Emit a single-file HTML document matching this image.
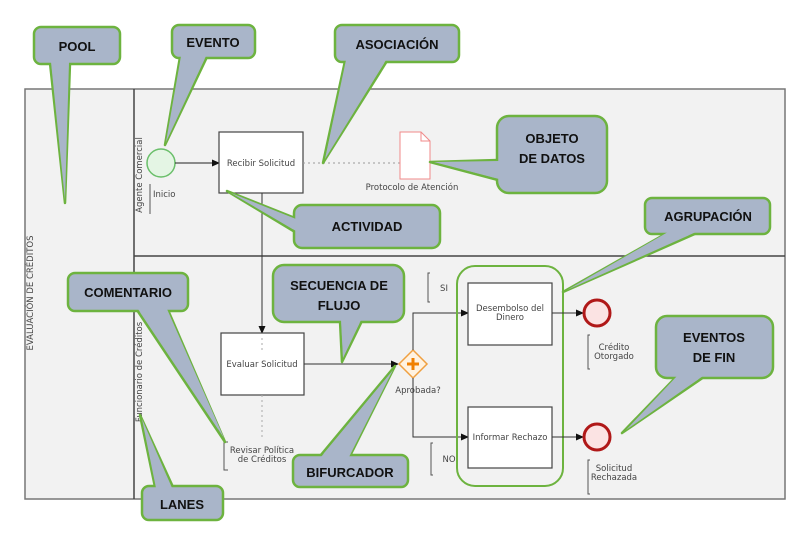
<!DOCTYPE html>
<html><head><meta charset="utf-8"><style>
html,body{margin:0;padding:0;background:#fff;}
svg{display:block;font-family:"DejaVu Sans","Liberation Sans",sans-serif;}
.c{font-family:"Liberation Sans",sans-serif;font-weight:bold;font-size:13px;fill:#111;text-anchor:middle;}
.t{font-size:8.5px;fill:#444;text-anchor:middle;}
</style></head><body>
<svg width="806" height="538" viewBox="0 0 806 538" xmlns="http://www.w3.org/2000/svg">
<defs><marker id="a" markerWidth="8" markerHeight="8" refX="7" refY="4" orient="auto" markerUnits="userSpaceOnUse"><path d="M0,0.5 L8,4 L0,7.5z" fill="#111"/></marker></defs>
<!-- pool -->
<rect x="25" y="89" width="760" height="410" fill="#f2f2f2" stroke="#777" stroke-width="1.5"/>
<line x1="134" y1="89" x2="134" y2="499" stroke="#444" stroke-width="1.5"/>
<line x1="134" y1="256" x2="785" y2="256" stroke="#444" stroke-width="1.5"/>
<text transform="translate(33,293) rotate(-90)" font-size="8.5" fill="#444" text-anchor="middle">EVALUACIÓN DE CRÉDITOS</text>
<text transform="translate(142,175) rotate(-90)" font-size="8.5" fill="#444" text-anchor="middle">Agente Comercial</text>
<text transform="translate(142,372) rotate(-90)" font-size="8.5" fill="#444" text-anchor="middle">Funcionario de Créditos</text>
<!-- top lane -->
<circle cx="161" cy="163" r="14" fill="#e4f5e4" stroke="#6abf6a" stroke-width="1.5"/>
<path d="M150,184 V214" stroke="#555" fill="none"/>
<text x="153" y="197" font-size="8.5" fill="#444">Inicio</text>
<line x1="175" y1="163" x2="219" y2="163" stroke="#222" marker-end="url(#a)"/>
<rect x="219" y="132" width="84" height="61" fill="#fff" stroke="#444" stroke-width="1.2"/>
<text x="261" y="166" class="t">Recibir Solicitud</text>
<line x1="303" y1="163" x2="400" y2="163" stroke="#999" stroke-dasharray="2,3"/>
<path d="M400,132 H421 L430,141 V179 H400Z" fill="#fff" stroke="#f08a8a"/>
<path d="M421,132 V141 H430" fill="none" stroke="#f08a8a"/>
<text x="412" y="190" class="t">Protocolo de Atención</text>
<line x1="262" y1="193" x2="262" y2="333" stroke="#333" marker-end="url(#a)"/>
<!-- bottom lane -->
<rect x="221" y="333" width="83" height="62" fill="#fff" stroke="#444" stroke-width="1.2"/>
<text x="262" y="367" class="t">Evaluar Solicitud</text>
<line x1="262" y1="338" x2="262" y2="352" stroke="#aaa" stroke-dasharray="2,3"/>
<line x1="262" y1="395" x2="262" y2="440" stroke="#aaa" stroke-dasharray="2,3"/>
<path d="M228,442 H224 V470 H228" stroke="#555" fill="none"/>
<text x="262" y="453" class="t">Revisar Política</text>
<text x="262" y="462" class="t">de Créditos</text>
<line x1="304" y1="364" x2="398" y2="364" stroke="#333" marker-end="url(#a)"/>
<path d="M413,350 L427,364 L413,378 L399,364Z" fill="#fff2e0" stroke="#f0a040" stroke-width="1.5"/>
<path d="M413,358 V370 M407,364 H419" stroke="#f08000" stroke-width="3"/>
<text x="418" y="393" class="t">Aprobada?</text>
<path d="M413,350 V313 H468" stroke="#333" fill="none" marker-end="url(#a)"/>
<path d="M413,378 V437 H468" stroke="#333" fill="none" marker-end="url(#a)"/>
<path d="M430,273 H428 V302 H430" stroke="#555" fill="none"/>
<text x="444" y="291" class="t">SI</text>
<path d="M433,443 H431 V475 H433" stroke="#555" fill="none"/>
<text x="449" y="462" class="t">NO</text>
<rect x="468" y="283" width="84" height="62" fill="#fff" stroke="#444" stroke-width="1.2"/>
<text x="510" y="311" class="t">Desembolso del</text>
<text x="510" y="320" class="t">Dinero</text>
<rect x="468" y="407" width="84" height="61" fill="#fff" stroke="#444" stroke-width="1.2"/>
<text x="510" y="440" class="t">Informar Rechazo</text>
<rect x="457" y="266" width="106" height="220" rx="18" fill="none" stroke="#6db33f" stroke-width="2"/>
<line x1="552" y1="313" x2="583" y2="313" stroke="#333" marker-end="url(#a)"/>
<line x1="552" y1="437" x2="583" y2="437" stroke="#333" marker-end="url(#a)"/>
<circle cx="597" cy="313" r="13" fill="#fbe3e3" stroke="#b01818" stroke-width="3"/>
<circle cx="597" cy="437" r="13" fill="#fbe3e3" stroke="#b01818" stroke-width="3"/>
<path d="M590,335 H588 V369 H590" stroke="#555" fill="none"/>
<text x="614" y="350" class="t">Crédito</text>
<text x="614" y="359" class="t">Otorgado</text>
<path d="M590,460 H588 V494 H590" stroke="#555" fill="none"/>
<text x="614" y="471" class="t">Solicitud</text>
<text x="614" y="480" class="t">Rechazada</text>
<!-- callouts -->
<g fill="#a9b5c9" stroke="#6db33f" stroke-width="2.5" stroke-linejoin="round">
<polygon points="50,63 70,63 65,203"/><rect x="34" y="27" width="86" height="37" rx="7"/><polygon points="51,62 69,62 65,200" stroke="none"/>
<polygon points="180,57 207,57 165,145"/><rect x="172" y="25" width="83" height="33" rx="7"/><polygon points="181,56 206,56 166,142" stroke="none"/>
<polygon points="345,61 387,61 323,163"/><rect x="335" y="25" width="124" height="37" rx="7"/><polygon points="346,60 386,60 325,159" stroke="none"/>
<polygon points="498,160 498,180 430,162"/><rect x="497" y="116" width="110" height="77" rx="12"/><polygon points="499,161 499,179 434,162" stroke="none"/>
<polygon points="295,218 295,232 227,191"/><rect x="294" y="205" width="146" height="43" rx="8"/><polygon points="296,219 296,231 231,193" stroke="none"/>
<polygon points="667,233 697,233 563,292"/><rect x="645" y="198" width="125" height="36" rx="7"/><polygon points="668,232 696,232 567,290" stroke="none"/>
<polygon points="676,377 704,377 622,433"/><rect x="656" y="316" width="117" height="62" rx="11"/><polygon points="677,376 703,376 626,430" stroke="none"/>
<polygon points="137,310 168,310 225,442"/><rect x="68" y="273" width="120" height="38" rx="7"/><polygon points="138,309 167,309 224,438" stroke="none"/>
<polygon points="340,321 362,321 342,362"/><rect x="273" y="265" width="131" height="57" rx="11"/><polygon points="341,320 361,320 343,358" stroke="none"/>
<polygon points="320,456 350,456 395,366"/><rect x="293" y="455" width="115" height="32" rx="7"/><polygon points="321,457 349,457 393,370" stroke="none"/>
<polygon points="155,487 173,487 140,415"/><rect x="142" y="486" width="81" height="34" rx="7"/><polygon points="156,488 172,488 142,419" stroke="none"/>
</g>
<text x="77" y="51" class="c">POOL</text>
<text x="213" y="47" class="c">EVENTO</text>
<text x="397" y="49" class="c">ASOCIACIÓN</text>
<text x="552" y="143" class="c">OBJETO</text>
<text x="552" y="163" class="c">DE DATOS</text>
<text x="367" y="231" class="c">ACTIVIDAD</text>
<text x="708" y="221" class="c">AGRUPACIÓN</text>
<text x="714" y="342" class="c">EVENTOS</text>
<text x="714" y="362" class="c">DE FIN</text>
<text x="128" y="297" class="c">COMENTARIO</text>
<text x="339" y="290" class="c">SECUENCIA DE</text>
<text x="339" y="310" class="c">FLUJO</text>
<text x="350" y="477" class="c">BIFURCADOR</text>
<text x="182" y="509" class="c">LANES</text>
</svg>
</body></html>
